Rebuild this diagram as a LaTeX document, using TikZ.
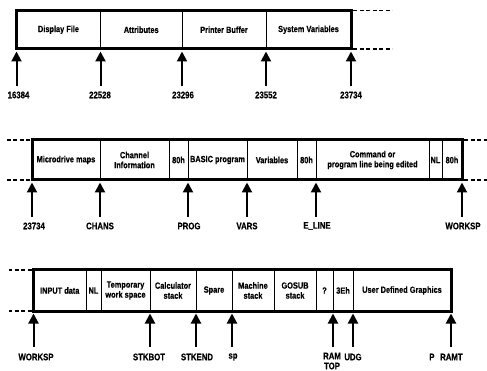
\documentclass[tikz,border=0pt]{standalone}
\usepackage{fontspec}
\setmainfont{Liberation Sans}[FakeStretch=0.82, BoldFeatures={FakeBold=0.4}]
\usetikzlibrary{arrows.meta}
\newcommand\mcell[6]{%
  \pgfmathsetmacro\mcx{(#2+#3)/2}\pgfmathsetmacro\mcy{(#4+#5)/2}%
  \pgfmathsetmacro\mcw{#3-#2}\pgfmathsetmacro\mch{#5-#4}%
  \node[cell, minimum width=\mcw pt, minimum height=\mch pt] (#1) at (\mcx,\mcy) {#6};}
\newcommand\mouter[5]{%
  \pgfmathsetmacro\mcx{(#2+#3)/2}\pgfmathsetmacro\mcy{(#4+#5)/2}%
  \pgfmathsetmacro\mcw{#3-#2}\pgfmathsetmacro\mch{#5-#4}%
  \node[outer, minimum width=\mcw pt, minimum height=\mch pt] (#1) at (\mcx,\mcy) {};}
\tikzset{
 cell/.style={draw, line width=0.9pt, inner sep=0pt, outer sep=0pt, align=center, font=\bfseries\fontsize{9}{10}\selectfont},
 outer/.style={draw, line width=3pt, inner sep=0pt, outer sep=0pt},
 dashline/.style={line width=1.3pt, dash pattern=on 4pt off 2.5pt},
 arr/.style={line width=2pt, -{Triangle[width=10pt,length=10pt]}},
 lbl/.style={font=\bfseries\fontsize{9.5}{10}\selectfont, inner sep=0pt, align=center}
}
\begin{document}
\begin{tikzpicture}[x=1pt,y=-1pt]
\useasboundingbox (0,0) rectangle (487,371);
% ---------- Row 1
\mcell{dfile}{16.5}{100.5}{10.5}{49}{Display File}
\mcell{attr}{100.5}{182}{10.5}{49}{Attributes}
\mcell{pbuf}{182}{266}{10.5}{49}{Printer Buffer}
\mcell{sysv}{266}{351}{10.5}{49}{System Variables}
\mouter{mem1}{16.5}{351}{10.5}{49}
\draw[dashline] ([xshift=2pt]mem1.north east) -- ++(39,0);
\draw[dashline] ([xshift=2pt]mem1.south east) -- ++(39,0);
\foreach \n/\x in {a/16.5, b/100.5, c/182, d/266, e/351}{
  \coordinate (r1\n) at (\x,86);
  \draw[arr] (r1\n) -- ([yshift=-2.5pt]r1\n |- mem1.south);
}
\node[lbl] (l16384) at (18.5,95) {16384};
\node[lbl] (l22528) at (100,95) {22528};
\node[lbl] (l23296) at (183,95) {23296};
\node[lbl] (l23552) at (266,95) {23552};
\node[lbl] (l23734a) at (351,95) {23734};
% ---------- Row 2
\mcell{mdm}{32}{100}{140}{180}{Microdrive maps}
\mcell{chan}{100}{169}{140}{180}{Channel\\Information}
\mcell{ha}{169}{188}{140}{180}{80h}
\mcell{basic}{188}{247}{140}{180}{BASIC program}
\mcell{vars}{247}{297}{140}{180}{Variables}
\mcell{hb}{297}{316}{140}{180}{80h}
\mcell{cmd}{316}{429}{140}{180}{Command or\\program line being edited}
\mcell{nla}{429}{442}{140}{180}{NL}
\mcell{hc}{442}{462}{140}{180}{80h}
\mouter{mem2}{32}{462}{140}{180}
\draw[dashline] ([xshift=-2pt]mem2.north west) -- ++(-23,0);
\draw[dashline] ([xshift=-2pt]mem2.south west) -- ++(-23,0);
\draw[dashline] ([xshift=2pt]mem2.north east) -- ++(23,0);
\draw[dashline] ([xshift=2pt]mem2.south east) -- ++(23,0);
\foreach \n/\x in {a/32, b/100, c/188, d/247, e/316, f/462}{
  \coordinate (r2\n) at (\x,217);
  \draw[arr] (r2\n) -- ([yshift=-2.5pt]r2\n |- mem2.south);
}
\node[lbl] (l23734b) at (34,226) {23734};
\node[lbl] (lchans) at (100,226) {CHANS};
\node[lbl] (lprog) at (189,226) {PROG};
\node[lbl] (lvars) at (247,226) {VARS};
\node[lbl] (leline) at (317,226) {E\_LINE};
\node[lbl] (lworkspa) at (463,226) {WORKSP};
% ---------- Row 3
\mcell{inp}{33.5}{86}{270}{311}{INPUT data}
\mcell{nlb}{86}{101}{270}{311}{NL}
\mcell{tmp}{101}{150}{270}{311}{Temporary\\work space}
\mcell{calc}{150}{196}{270}{311}{Calculator\\stack}
\mcell{spare}{196}{232}{270}{311}{Spare}
\mcell{mach}{232}{274}{270}{311}{Machine\\stack}
\mcell{gosub}{274}{316}{270}{311}{GOSUB\\stack}
\mcell{qm}{316}{333}{270}{311}{?}
\mcell{teh}{333}{353}{270}{311}{3Eh}
\mcell{udg}{353}{451}{270}{311}{User Defined Graphics}
\mouter{mem3}{33.5}{451}{270}{311}
\draw[dashline] ([xshift=-2pt]mem3.north west) -- ++(-23,0);
\draw[dashline] ([xshift=-2pt]mem3.south west) -- ++(-23,0);
\foreach \n/\x in {a/33.5, b/150, c/196, d/232, e/333, f/353, g/451}{
  \coordinate (r3\n) at (\x,347);
  \draw[arr] (r3\n) -- ([yshift=-2.5pt]r3\n |- mem3.south);
}
\node[lbl] (lworkspb) at (36,357) {WORKSP};
\node[lbl] (lstkbot) at (149,357) {STKBOT};
\node[lbl] (lstkend) at (197,357) {STKEND};
\node[lbl] (lsp) at (233,357) {sp};
\node[lbl, anchor=north] (lramtop) at (332,352.5) {RAM\\TOP};
\node[lbl] (ludg) at (353,357) {UDG};
\node[lbl] (lpramt) at (446,357) {P\hspace{0.6em}RAMT};
\end{tikzpicture}
\end{document}
